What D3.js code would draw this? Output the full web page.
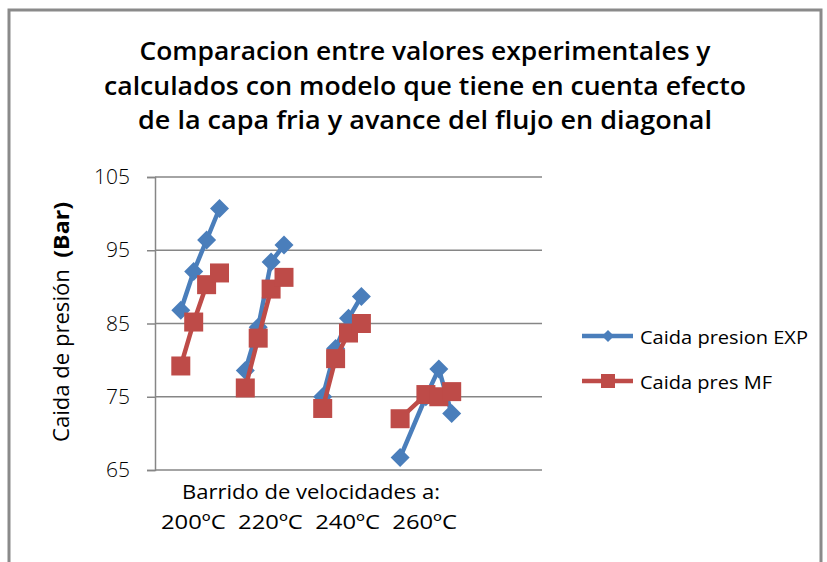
<!DOCTYPE html>
<html>
<head>
<meta charset="utf-8">
<script src="https://cdn.jsdelivr.net/npm/d3@7"></script>
<style>
  body { margin: 0; background: #fff; }
  text { font-family: "Open Sans", sans-serif; fill: #000; }
</style>
</head>
<body>
<svg id="chart" width="827" height="562"></svg>
<script>
// category slots along the x axis (blank slots separate the temperature groups)
var xIndex = [2, 3, 4, 5, 7, 8, 9, 10, 13, 14, 15, 16, 19, 21, 22, 23];
var groupOf = [0, 0, 0, 0, 1, 1, 1, 1, 2, 2, 2, 2, 3, 3, 3, 3];
var expValues = [86.8, 92.1, 96.4, 100.7, 78.6, 84.5, 93.4, 95.7, 75.0, 81.6, 85.7, 88.7, 66.7, 75.0, 78.8, 72.7];
var mfValues = [79.2, 85.2, 90.3, 91.9, 76.2, 83.0, 89.7, 91.3, 73.4, 80.2, 83.7, 85.0, 72.0, 75.3, 75.0, 75.7];
var yTicks = [65, 75, 85, 95, 105];
var titleLines = [
  "Comparacion entre valores experimentales y",
  "calculados con modelo que tiene en cuenta efecto",
  "de la capa fria y avance del flujo en diagonal"
];
var seriesNames = ["Caida presion EXP", "Caida pres MF"];
var xTitleLines = ["Barrido de velocidades a:", "200ºC  220ºC  240ºC  260ºC"];

var blue = "#4a7ebb", red = "#be4b48", grid = "#868686";

var svg = d3.select("#chart");

// outer frame
svg.append("path")
  .attr("d", "M9,600 V10 H821 V600")
  .attr("fill", "none")
  .attr("stroke", "#8a8a8a")
  .attr("stroke-width", 3);

var x = d3.scaleLinear().domain([0, 30]).range([155, 542]);
var y = d3.scaleLinear().domain([65, 105]).range([470, 177]);

// title
var titleW = [571, 642, 574];
svg.append("g").selectAll("text")
  .data(titleLines)
  .enter().append("text")
  .attr("x", 425)
  .attr("y", function (d, i) { return [60, 95, 129][i]; })
  .attr("text-anchor", "middle")
  .attr("font-size", 25)
  .attr("font-weight", 600)
  .attr("textLength", function (d, i) { return titleW[i]; })
  .attr("lengthAdjust", "spacingAndGlyphs")
  .text(function (d) { return d; });

// gridlines
svg.append("g").selectAll("line")
  .data(yTicks)
  .enter().append("line")
  .attr("x1", x(0)).attr("x2", x(30))
  .attr("y1", function (d) { return y(d); })
  .attr("y2", function (d) { return y(d); })
  .attr("stroke", grid)
  .attr("stroke-width", 1.5);

// y axis
var yAxis = svg.append("g")
  .attr("transform", "translate(" + x(0) + ",0)")
  .call(d3.axisLeft(y).tickValues(yTicks).tickSize(8).tickPadding(17).tickFormat(d3.format("d")));
yAxis.select(".domain").attr("stroke", grid).attr("stroke-width", 1.5);
yAxis.selectAll(".tick line").attr("stroke", grid).attr("stroke-width", 1.5);
yAxis.selectAll(".tick text")
  .attr("font-family", "Open Sans, sans-serif")
  .attr("font-size", 21)
  .attr("font-weight", 300)
  .attr("fill", "#000");

// y axis title
var yt = svg.append("text")
  .attr("transform", "translate(69,322) rotate(-90)")
  .attr("text-anchor", "middle")
  .attr("font-size", 21)
  .attr("textLength", 240).attr("lengthAdjust", "spacingAndGlyphs")
  .style("white-space", "pre");
yt.append("tspan").text("Caida de presión  ");
yt.append("tspan").attr("font-weight", "bold").attr("font-size", 22).text("(Bar)");

// x axis title
svg.append("text")
  .attr("x", 182).attr("y", 499)
  .attr("font-size", 20)
  .attr("textLength", 258).attr("lengthAdjust", "spacingAndGlyphs")
  .text(xTitleLines[0]);
svg.append("text")
  .attr("x", 161).attr("y", 529)
  .attr("font-size", 20)
  .attr("textLength", 296).attr("lengthAdjust", "spacingAndGlyphs")
  .style("white-space", "pre")
  .text(xTitleLines[1]);

var line = d3.line()
  .x(function (d) { return x(d.x); })
  .y(function (d) { return y(d.v); });

function drawSeries(values, color, marker) {
  var pts = values.map(function (v, i) { return { x: xIndex[i], v: v, g: groupOf[i] }; });
  var groups = d3.groups(pts, function (d) { return d.g; });
  var g = svg.append("g");
  g.selectAll("path.ln")
    .data(groups)
    .enter().append("path")
    .attr("class", "ln")
    .attr("d", function (d) { return line(d[1]); })
    .attr("fill", "none")
    .attr("stroke", color)
    .attr("stroke-width", 4.5)
    .attr("stroke-linejoin", "round");
  g.selectAll("path.mk")
    .data(pts)
    .enter().append("path")
    .attr("class", "mk")
    .attr("transform", function (d) { return "translate(" + x(d.x) + "," + y(d.v) + ")"; })
    .attr("d", marker)
    .attr("fill", color);
}

var diamond = "M0,-9.5 L9.5,0 L0,9.5 L-9.5,0 Z";
var square = "M-9.5,-9.5 H9.5 V9.5 H-9.5 Z";
drawSeries(expValues, blue, diamond);
drawSeries(mfValues, red, square);

// legend
var legend = svg.append("g");
var legendY = [336, 381];
var legendColors = [blue, red];
var legendMarks = ["M0,-6 L6,0 L0,6 L-6,0 Z", "M-7,-7 H7 V7 H-7 Z"];
var legendW = [168, 132];
seriesNames.forEach(function (name, i) {
  legend.append("line")
    .attr("x1", 582).attr("x2", 633)
    .attr("y1", legendY[i]).attr("y2", legendY[i])
    .attr("stroke", legendColors[i]).attr("stroke-width", 4.5);
  legend.append("path")
    .attr("transform", "translate(608," + legendY[i] + ")")
    .attr("d", legendMarks[i])
    .attr("fill", legendColors[i]);
  legend.append("text")
    .attr("x", 640).attr("y", legendY[i] + 8)
    .attr("font-size", 19)
    .attr("textLength", legendW[i]).attr("lengthAdjust", "spacingAndGlyphs")
    .text(name);
});
</script>
</body>
</html>
